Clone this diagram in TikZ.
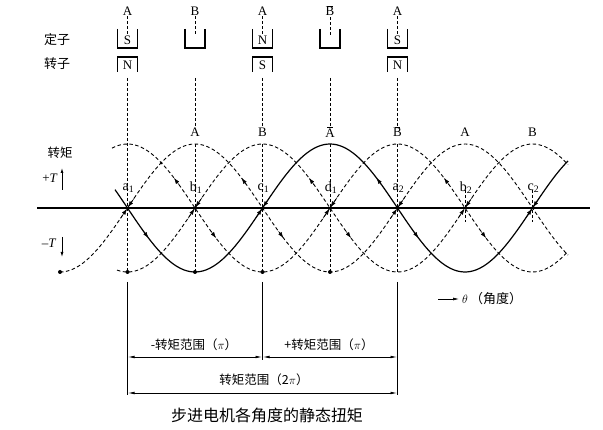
\documentclass[tikz,border=0pt]{standalone}
\usepackage{fontspec}
\setmainfont{Liberation Serif}
\newfontfamily\cjk{Noto Sans CJK SC}
\usetikzlibrary{arrows.meta}
\newcommand{\ink}{black}
\newcommand{\nbar}[1]{\setbox0\hbox{#1}\rlap{\hbox to\wd0{\hss\raisebox{1.12\ht0}{\rule{0.6\wd0}{0.5pt}}\hss}}#1}
\newcommand{\tipon}[3]{\draw[tip] (#2,{#1(#2)}) -- (#3,{#1(#3)});}

\begin{document}
\begin{tikzpicture}[x=1pt,y=1pt,
        declare function={ts(\x)=221-64*sin((\x-127.5)*4/3);
                ta(\x)=221+64*sin((\x-127.5)*4/3);
                tb(\x)=221-64*cos((\x-127.5)*4/3);
                tc(\x)=221+64*cos((\x-127.5)*4/3);}]
        \tikzset{wave/.style = {line width=1.2pt, \ink},
                dwave/.style = {line width=0.9pt, \ink, dash pattern=on 3.5pt off 2.5pt},
                guide/.style = {line width=0.7pt, \ink, dash pattern=on 3pt off 2pt},
                tip/.style = {-{Latex[length=6pt,width=4pt]}, line width=0.5pt},
                dim/.style = {{Latex[length=7pt,width=2.6pt]}-{Latex[length=7pt,width=2.6pt]}, line width=0.8pt},
                pole/.style = {line width=1.2pt},
                lbl/.style = {font=\fontsize{13}{13}\selectfont, inner sep=1pt},
                zh/.style = {font=\cjk\fontsize{12.5}{12.5}\selectfont, inner sep=1pt}}
        \useasboundingbox (0,0) rectangle (603,429);
        %\draw[help lines, step=10] (0,0) grid (603,429);
        % stator and rotor
        \node[zh, font=\cjk\fontsize{13}{13}\selectfont] (stator) at (57,389) {定子};
        \node[zh, font=\cjk\fontsize{13}{13}\selectfont] (rotor) at (57,365) {转子};
        \foreach \x/\p [count=\i] in {127.5/A, 195/B, 262.5/A, 330/\nbar{B}, 397.5/A} {
            \node[lbl] (top\i) at (\x,418) {\p};
            \coordinate (in\i) at (\x,393);
            \draw[guide] (top\i.south) -- (in\i);
            \draw[pole] (\x-10,400) -- (\x-10,381) -- (\x+10,381) -- (\x+10,400);
        }
        \foreach \x/\s/\r [count=\i] in {127.5/S/N, 262.5/N/S, 397.5/S/N} {
            \node[lbl, fill=white, inner sep=0.5pt] (st\i) at (\x,389) {\s};
            \node[lbl] (ro\i) at (\x,364) {\r};
            \draw[pole] (\x-10,357) -- (\x-10,372) -- (\x+10,372) -- (\x+10,357);
        }
        % guide lines
        \foreach \x/\p [count=\i] in {195/A, 262.5/B, 330/\nbar{A}, 397.5/\nbar{B}, 465/A, 532.5/B}
            \node[lbl] (pk\i) at (\x,297) {\p};
        \draw[guide] (127.5,351) -- (127.5,157);
        \foreach \i/\x in {1/195, 2/262.5, 3/330, 4/397.5} {
            \draw[guide] (\x,351) -- (pk\i.north);
            \draw[guide] (\x,285) -- (\x,157);
        }
        \draw[guide] (465,239) -- (465,207);
        \draw[guide] (532.5,239) -- (532.5,207);
        % axis and curves
        \draw[line width=1.1pt] (37,221) -- (590,221);
        \draw[dwave] plot[domain=60:568, samples=160, smooth] (\x,{ta(\x)});
        \draw[dwave] plot[domain=117:568, samples=140, smooth] (\x,{tb(\x)});
        \draw[dwave] plot[domain=112:568, samples=140, smooth] (\x,{tc(\x)});
        \draw[wave] plot[domain=115:568, samples=140, smooth] (\x,{ts(\x)});
        \foreach \x in {60, 127.5, 195, 262.5, 330}
            \fill (\x,157) circle (2pt);
        \fill (161.25,266) circle (1.4pt);
        % arrows at the zero points
        \foreach \f/\x in {ta/127.5, tb/195, ts/262.5, tc/330, ta/397.5, tb/465, ts/532.5} {
            \tipon{\f}{\x-7}{\x-0.5}
            \tipon{\f}{\x+7}{\x+0.5}
        }
        \foreach \f/\x in {tc/195, ta/262.5, tb/330, ts/397.5, tc/465} {
            \tipon{\f}{\x-16}{\x-21}
            \tipon{\f}{\x+16}{\x+21}
        }
        \tipon{ts}{143.5}{148.5}
        \foreach \x/\n/\k in {127.5/a/1, 195/b/1, 262.5/c/1, 330/d/1, 397.5/a/2, 465/b/2, 532.5/c/2}
            \node[lbl, font=\fontsize{14}{14}\selectfont] (z\n\k) at (\x+1,241) {\n\textsubscript{\k}};
        % torque sign
        \node[zh] (torque) at (60,276) {转矩};
        \node[lbl] (plusT) at (50,251) {+\textit{T}};
        \node[lbl] (minusT) at (49,186) {–\textit{T}};
        \coordinate (up0) at (62,239);
        \coordinate (up1) at (62,261);
        \coordinate (dn0) at (62,192);
        \coordinate (dn1) at (62,172);
        \draw[-{Latex[length=5pt,width=3pt]}, line width=0.8pt] (up0) -- (up1);
        \draw[-{Latex[length=5pt,width=3pt]}, line width=0.8pt] (dn0) -- (dn1);
        \coordinate (th0) at (438,130);
        \coordinate (th1) at (459,130);
        \draw[-{Latex[length=6pt,width=3pt]}, line width=0.7pt] (th0) -- (th1);
        \node[lbl, anchor=west] (theta) at (461,130) {$\theta$\,{\cjk （角度）}};
        % ranges
        \coordinate (r1) at (127.5,34);
        \coordinate (r2) at (262.5,69);
        \coordinate (r3) at (397.5,34);
        \draw[line width=0.8pt] (127.5,147) -- (r1);
        \draw[line width=0.8pt] (262.5,147) -- (r2);
        \draw[line width=0.8pt] (397.5,147) -- (r3);
        \coordinate (m1) at (127.5,72);
        \coordinate (m2) at (262.5,72);
        \coordinate (m3) at (397.5,72);
        \draw[dim] (m1) -- (m2);
        \draw[dim] (m2) -- (m3);
        \draw[dim] (127.5,36) -- (397.5,36);
        \node[zh] (neg) at (194,84) {-转矩范围（$\pi$）};
        \node[zh] (pos) at (329,84) {+转矩范围（$\pi$）};
        \node[zh] (full) at (264,49) {转矩范围（2$\pi$）};
        \node[font=\cjk\fontsize{16}{16}\selectfont] (title) at (267,14) {步进电机各角度的静态扭矩};
    \end{tikzpicture}
\end{document}
